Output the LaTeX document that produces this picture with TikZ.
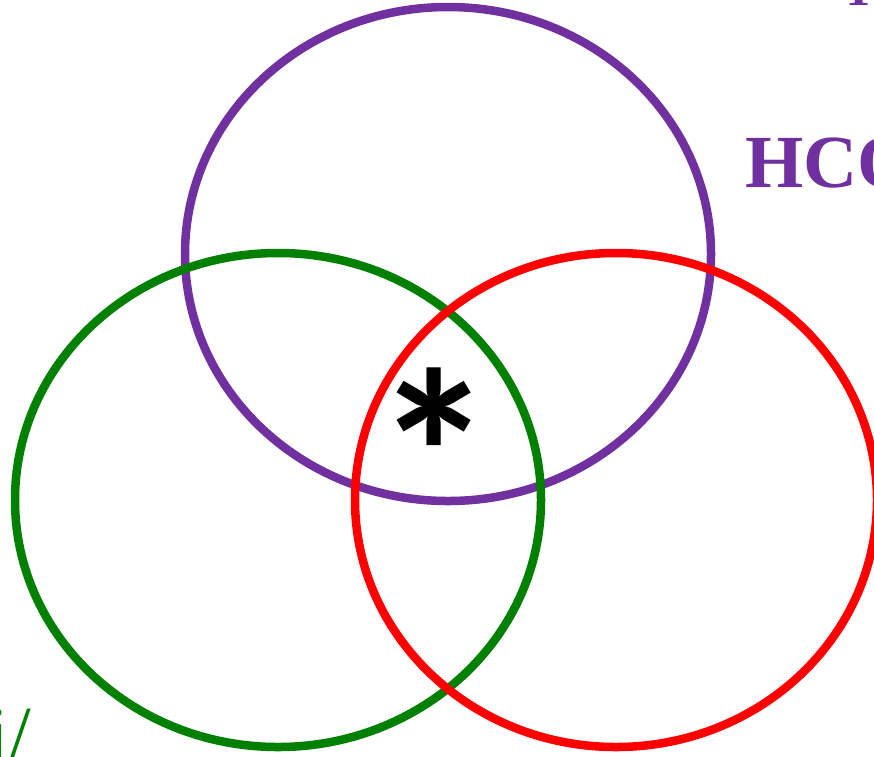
\documentclass[tikz,border=0pt]{standalone}
\usepackage{fontspec}
\setmainfont{Liberation Serif}
\newfontfamily\astfont{Carlito}
\definecolor{vpurple}{HTML}{7030A0}
\definecolor{vgreen}{HTML}{008000}
\definecolor{vred}{HTML}{FF0000}
\begin{document}
\begin{tikzpicture}[x=1pt,y=-1pt,
  setring/.style={line width=8.5pt},
  lbl/.style={inner sep=0pt,outer sep=0pt}]
\useasboundingbox (0,0) rectangle (874,756);
\clip (0,0) rectangle (874,756);
\draw[setring,vpurple] (448,254) ellipse [x radius=263, y radius=247];
\draw[setring,vgreen] (278,500) ellipse [x radius=263, y radius=247];
\draw[setring,vred] (616,500) ellipse [x radius=261, y radius=247];
\node[lbl,anchor=base west,text=vpurple,font=\fontsize{75}{80}\selectfont\bfseries] (hco) at (745,187) {HCO};
\node[lbl,anchor=base west,text=vpurple,font=\fontsize{50}{55}\selectfont\bfseries] (top) at (842,5) {TH};
\node[lbl,anchor=base east,text=vgreen,font=\fontsize{78}{80}\selectfont] (gtxt) at (31,760) {i/};
\node[lbl,text=black,font=\fontsize{240}{240}\selectfont\astfont\bfseries] (ast) at (434,454) {*};
\end{tikzpicture}
\end{document}
